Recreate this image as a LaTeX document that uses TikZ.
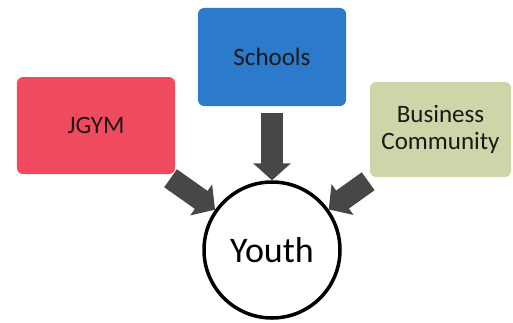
\documentclass[tikz,border=0pt]{standalone}
\usepackage{fontspec}
\setmainfont{Carlito}
\usetikzlibrary{arrows.meta,positioning}
\definecolor{jgymred}{HTML}{F04A5E}
\definecolor{schoolblue}{HTML}{2C7ACB}
\definecolor{bizgreen}{HTML}{CCD6A8}
\definecolor{arrowgray}{HTML}{474747}
\tikzstyle{block} =
  [rectangle, rounded corners=6pt, text centered, align=center,
   inner sep=0pt, text=black!90, font=\fontsize{25}{27}\selectfont]
\tikzstyle{hub} =
  [circle, draw, line width=3.5pt, minimum size=136pt, inner sep=0pt,
   fill=white, font=\fontsize{36}{40}\selectfont]
\tikzstyle{bigarrow} =
  [draw=arrowgray, line width=22pt, shorten <=7pt,
   -{Triangle[width=37pt,length=17pt]}]

\begin{document}
\begin{tikzpicture}[node distance=193pt]
  \useasboundingbox (-272pt,-72pt) rectangle (241pt,250pt);
  \node [hub] (youth) at (0,0) {Youth};
  \node [block, fill=schoolblue, minimum width=148pt, minimum height=98pt,
    above of=youth] (schools) {Schools};
  \node [block, fill=jgymred, minimum width=158pt, minimum height=97pt,
    above of=youth, xshift=-176pt, node distance=124.5pt] (jgym) {JGYM};
  \node [block, fill=bizgreen, minimum width=141pt, minimum height=95pt,
    above of=youth, xshift=168.5pt, node distance=120.5pt] (biz)
    {Business\\Community};

  \draw [bigarrow] (schools) to (youth);
  \draw [bigarrow] (jgym) to (youth);
  \draw [bigarrow] (biz) to (youth);
\end{tikzpicture}
\end{document}
